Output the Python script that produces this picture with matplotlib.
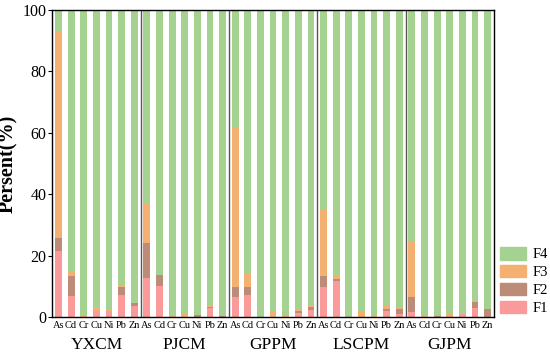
import matplotlib
matplotlib.use("Agg")
import matplotlib.pyplot as plt
import numpy as np
from matplotlib.patches import Patch

plt.rcParams["font.family"] = ["Liberation Serif", "DejaVu Serif"]

sites = ["YXCM", "PJCM", "GPPM", "LSCPM", "GJPM"]
elements = ["As", "Cd", "Cr", "Cu", "Ni", "Pb", "Zn"]

# fractions in percent, per site in element order
f1 = [21.5, 6.8, 0.0, 1.8, 2.0, 7.2, 3.6,
      12.6, 10.0, 0.0, 0.0, 0.0, 3.0, 0.0,
      6.6, 7.2, 0.0, 0.0, 0.0, 1.2, 2.3,
      9.8, 11.7, 0.0, 0.0, 0.0, 2.0, 1.0,
      1.5, 0.0, 0.0, 0.0, 1.0, 2.9, 0.0]
f2 = [4.3, 6.6, 0.0, 0.0, 0.0, 2.5, 0.9,
      11.4, 3.7, 0.0, 0.0, 0.5, 0.4, 0.3,
      3.2, 2.6, 0.0, 0.0, 0.0, 0.6, 0.9,
      3.6, 0.8, 0.0, 0.0, 0.0, 0.5, 1.5,
      5.0, 0.0, 0.3, 0.0, 0.0, 2.1, 2.5]
f3 = [67.0, 1.6, 0.5, 1.4, 0.3, 0.7, 0.2,
      12.8, 0.0, 0.3, 1.0, 0.3, 0.6, 0.2,
      51.9, 4.5, 0.0, 1.5, 0.3, 0.7, 0.3,
      21.5, 0.8, 0.0, 1.5, 0.3, 1.0, 0.5,
      18.0, 0.5, 0.0, 1.0, 0.0, 0.0, 0.0]

f1 = np.array(f1)
f2 = np.array(f2)
f3 = np.array(f3)
f4 = 100 - f1 - f2 - f3

c1 = "#fb9a9b"
c2 = "#bd8c79"
c3 = "#f3b070"
c4 = "#a5d291"

fig = plt.figure(figsize=(5.5, 3.53), dpi=100)
ax = fig.add_axes([0.095, 0.102, 0.803, 0.87])

x = np.arange(len(f1))
w = 0.54
ax.bar(x, f1, w, color=c1)
ax.bar(x, f2, w, bottom=f1, color=c2)
ax.bar(x, f3, w, bottom=f1 + f2, color=c3)
ax.bar(x, f4, w, bottom=f1 + f2 + f3, color=c4)

n = len(elements)
for i in range(1, len(sites)):
    ax.axvline(i * n - 0.5, color="#555555", lw=1.0)

ax.set_xlim(-0.5, len(f1) - 0.5)
ax.set_ylim(0, 100)
ax.set_xticks(x)
ax.set_xticklabels(elements * len(sites), fontsize=7.5)
ax.tick_params(axis="x", length=0, pad=3)
ax.tick_params(axis="y", labelsize=11.5, length=3, pad=1)
ax.set_yticks([0, 20, 40, 60, 80, 100])
ax.set_ylabel("Persent(%)", fontsize=14.5, fontweight="bold", labelpad=3)

for i, s in enumerate(sites):
    ax.text(i * n + (n - 1) / 2, -0.065, s, transform=ax.get_xaxis_transform(),
            ha="center", va="top", fontsize=12.5)

for sp in ax.spines.values():
    sp.set_linewidth(1.0)

handles = [Patch(color=c4, label="F4"), Patch(color=c3, label="F3"),
           Patch(color=c2, label="F2"), Patch(color=c1, label="F1")]
ax.legend(handles=handles, loc="lower left", bbox_to_anchor=(1.0, -0.013),
          frameon=False, fontsize=10.5, handlelength=1.78, handleheight=0.96,
          labelspacing=0.25, handletextpad=0.48, borderaxespad=0.0)

fig.savefig("out.png", dpi=100)
